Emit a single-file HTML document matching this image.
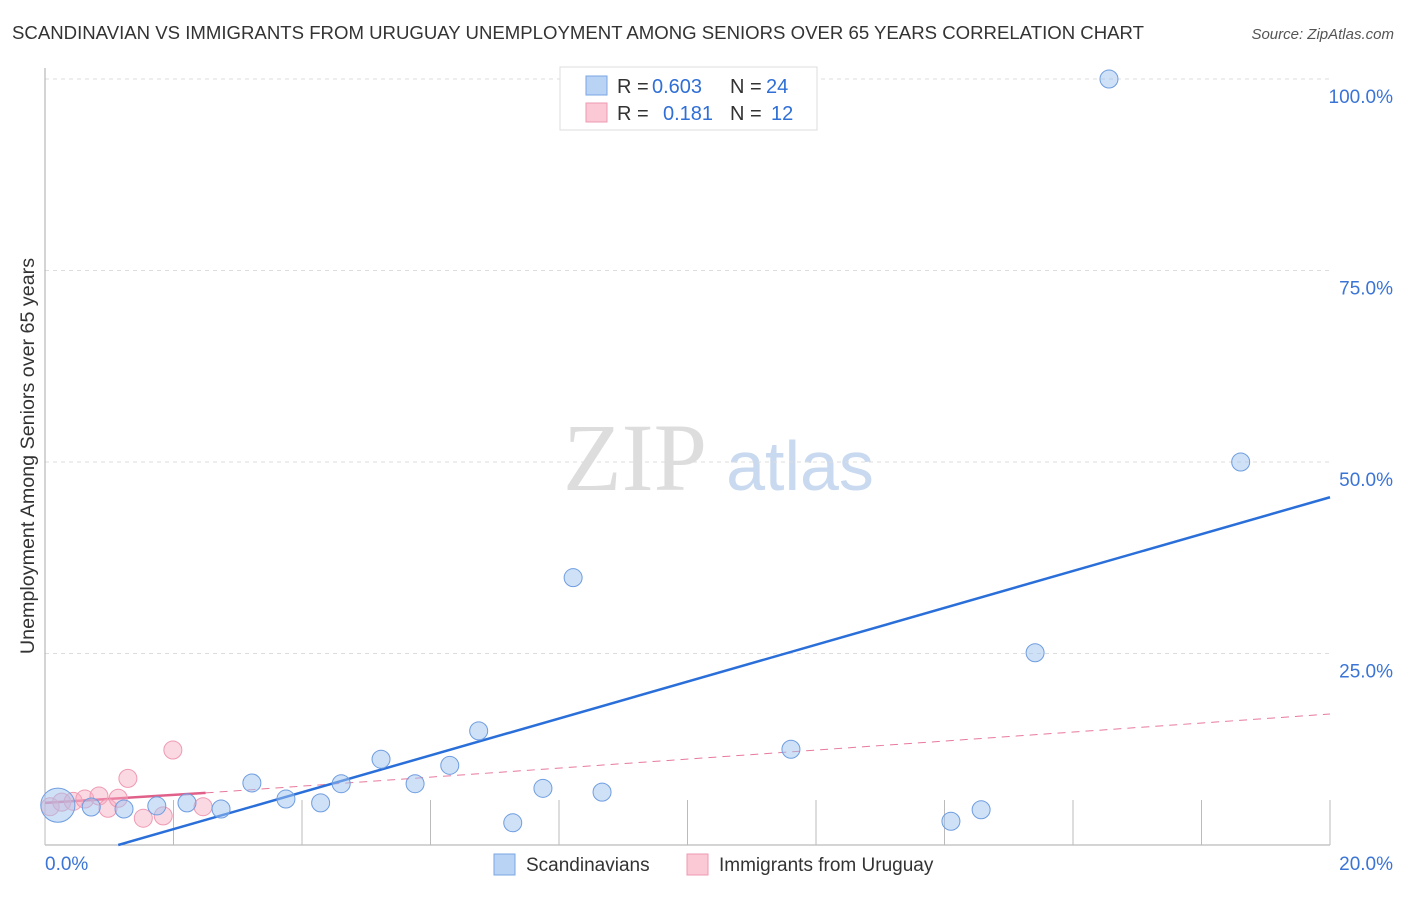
<!DOCTYPE html>
<html><head><meta charset="utf-8"><style>
body{margin:0;background:#fff;font-family:"Liberation Sans",sans-serif}
svg text{font-family:"Liberation Sans",sans-serif}
</style></head><body>
<svg id="c" width="1406" height="892" viewBox="0 0 1406 892" xmlns="http://www.w3.org/2000/svg">
<text x="12" y="39" font-size="18.6" fill="#333">SCANDINAVIAN VS IMMIGRANTS FROM URUGUAY UNEMPLOYMENT AMONG SENIORS OVER 65 YEARS CORRELATION CHART</text>
<text x="1394" y="39" font-size="15" fill="#555" font-style="italic" text-anchor="end">Source: ZipAtlas.com</text>
<text x="34" y="456" font-size="19.7" fill="#333" text-anchor="middle" transform="rotate(-90 34 456)">Unemployment Among Seniors over 65 years</text>
<g>
<text x="635" y="490" font-size="96" fill="#ddd" text-anchor="middle" style="font-family:'Liberation Serif',serif">ZIP</text>
<text x="800" y="490" font-size="70" fill="#c9d9ef" text-anchor="middle">atlas</text>
</g>
<g id="grid"></g><g id="axes"></g><g id="lines"></g><g id="pts"></g>
<g>
<rect x="560" y="67" width="257" height="63" fill="#fff" stroke="#ddd"/>
<rect x="586" y="76" width="21" height="19" fill="#b9d3f5" stroke="#7aa6e3"/>
<rect x="586" y="103" width="21" height="19" fill="#fbc8d6" stroke="#ef9ab3"/>
<text x="617" y="93" font-size="20" fill="#333">R =</text>
<text x="652" y="93" font-size="20" fill="#2f6fd6">0.603</text>
<text x="730" y="93" font-size="20" fill="#333">N =</text>
<text x="766" y="93" font-size="20" fill="#2f6fd6">24</text>
<text x="617" y="120" font-size="20" fill="#333">R =</text>
<text x="663" y="120" font-size="20" fill="#2f6fd6">0.181</text>
<text x="730" y="120" font-size="20" fill="#333">N =</text>
<text x="771" y="120" font-size="20" fill="#2f6fd6">12</text>
</g>
<g>
<rect x="494" y="854" width="21" height="21" fill="#b9d3f5" stroke="#7aa6e3"/>
<text x="526" y="871" font-size="19" fill="#333">Scandinavians</text>
<rect x="687" y="854" width="21" height="21" fill="#fbc8d6" stroke="#ef9ab3"/>
<text x="719" y="871" font-size="19" fill="#333">Immigrants from Uruguay</text>
</g>
</svg>
<script>
const blueX=[0.2,0.72,1.23,1.74,2.21,2.74,3.22,3.75,4.29,4.61,5.23,5.76,6.30,6.75,7.28,7.75,8.22,8.67,11.61,14.10,14.57,15.41,16.56,18.61];
const blueY=[5.2,4.96,4.7,5.1,5.5,4.7,8.1,6.0,5.5,8.0,11.2,8.0,10.4,14.9,2.9,7.4,34.9,6.9,12.5,3.1,4.6,25.1,100,50];
const blueSize=[1.9,1,1,1,1,1,1,1,1,1,1,1,1,1,1,1,1,1,1,1,1,1,1,1];
const pinkX=[0.08,0.26,0.44,0.62,0.84,0.98,1.14,1.29,1.53,1.84,1.99,2.46];
const pinkY=[5.0,5.6,5.7,6.0,6.4,4.8,6.1,8.7,3.5,3.8,12.4,5.0];
const yTicks=[25,50,75,100];
const yTickLabels=["25.0%","50.0%","75.0%","100.0%"];
const xTicks=[0,2,4,6,8,10,12,14,16,18,20];
const blueTrend=[[1.14,0],[20,45.4]];
const pinkTrendSolid=[[0,5.5],[2.5,6.8]];
const pinkTrendDash=[[2.5,6.8],[20,17.1]];
const NS="http://www.w3.org/2000/svg";
const X=v=>45+v*64.25, Y=v=>845-v*7.66;
function mk(t,a,p){const e=document.createElementNS(NS,t);for(const k in a)e.setAttribute(k,a[k]);document.getElementById(p).appendChild(e);return e;}
yTicks.forEach((t,i)=>{
 const g=mk('line',{x1:45,x2:1330,y1:Y(t),y2:Y(t),stroke:'#ddd','stroke-dasharray':'4,4'},'grid');
 
 
 const l=mk('text',{x:1393,y:Y(t)+24,'font-size':19,fill:'#3a74d6','text-anchor':'end'},'axes');
 l.textContent=yTickLabels[i];
 
 
});
const ax=mk('line',{x1:45,x2:45,y1:68,y2:845,stroke:'#aaa'},'axes');


const bx=mk('line',{x1:45,x2:1330,y1:845,y2:845,stroke:'#aaa'},'axes');


xTicks.forEach(t=>{const e=mk('line',{x1:X(t),x2:X(t),y1:800,y2:845,stroke:'#bbb'},'axes');
 
 });
const x0=mk('text',{x:45,y:870,'font-size':19,fill:'#3a74d6'},'axes');x0.textContent='0.0%';


const x1=mk('text',{x:1393,y:870,'font-size':19,fill:'#3a74d6','text-anchor':'end'},'axes');x1.textContent='20.0%';


function ln(p,attrs,name){const e=mk('line',Object.assign({x1:X(p[0][0]),y1:Y(p[0][1]),x2:X(p[1][0]),y2:Y(p[1][1])},attrs),'lines');
 
 }
ln(pinkTrendDash,{stroke:'#e8799c','stroke-width':1,'stroke-dasharray':'8,6'},'uruguay-trend-dashed');
ln(pinkTrendSolid,{stroke:'#e0608a','stroke-width':2.5},'uruguay-trend');
ln(blueTrend,{stroke:'#2a6fd9','stroke-width':2.5},'scandinavians-trend');
pinkX.forEach((v,i)=>{const c=mk('circle',{cx:X(v),cy:Y(pinkY[i]),r:9,fill:'rgba(247,170,192,0.45)',stroke:'#ef9ab3','stroke-width':1},'pts');
 
 });
blueX.forEach((v,i)=>{const c=mk('circle',{cx:X(v),cy:Y(blueY[i]),r:9*blueSize[i],fill:'rgba(160,196,240,0.5)',stroke:'#6e9de0','stroke-width':1},'pts');
 
 });
</script>
</body></html>
